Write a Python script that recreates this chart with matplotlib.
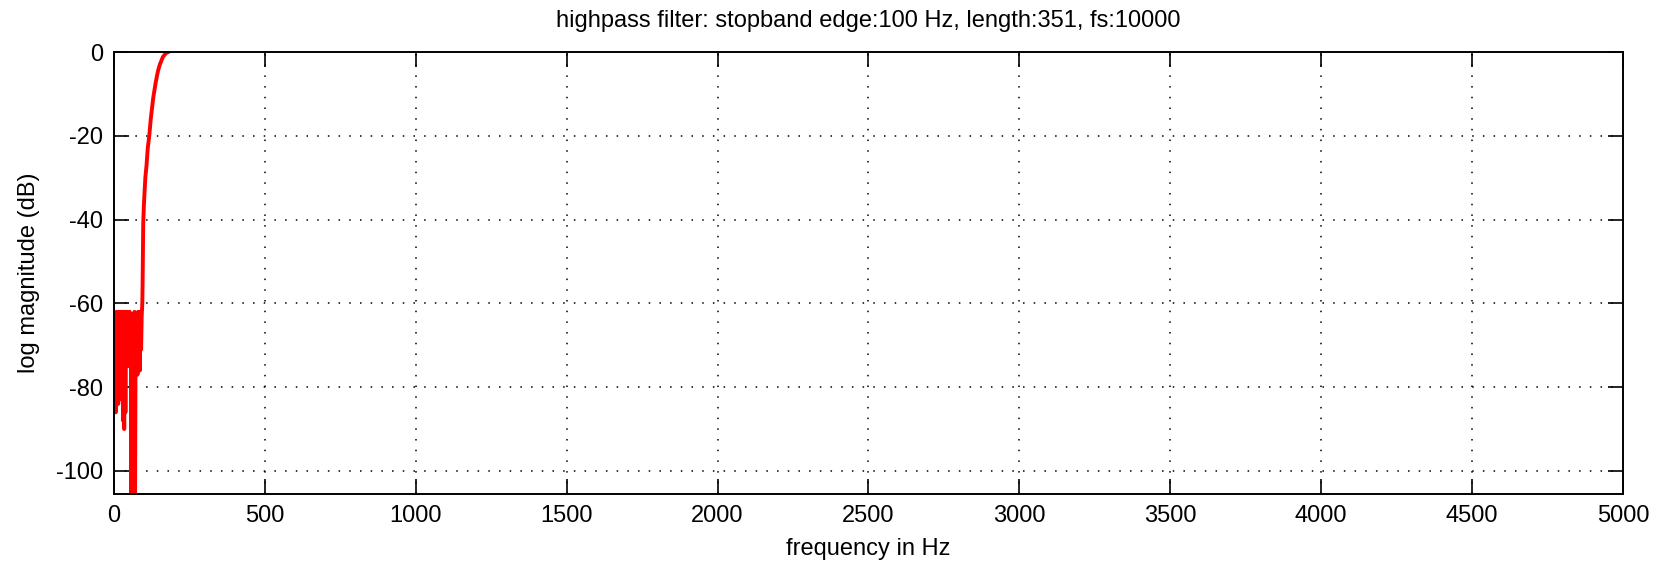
"""
Highpass FIR filter magnitude response (stopband edge 100 Hz, 351 taps, fs 10 kHz).
"""
import matplotlib
matplotlib.use('Agg')
import matplotlib.pyplot as plt

# Frequency response (Hz, dB)
FREQ_HZ = [0, 2, 4, 6, 8, 10, 12, 14, 16, 18, 20, 22, 24, 26, 28, 30, 32, 34, 36, 38,
           40, 42, 44, 46, 48, 50, 52, 54, 56, 58, 60, 62, 64, 66, 68, 70, 72, 74, 76, 78,
           80, 82, 84, 86, 88, 90, 92,
           94, 95, 96, 97, 99, 101, 104, 108, 112, 117, 122, 130, 139, 146, 152, 162, 172, 180]
MAG_DB = [-66, -84, -63, -86, -62, -80, -63, -84, -62, -70, -62, -74, -63, -83, -62, -88, -63, -90, -62, -86,
          -63, -70, -62, -75, -63, -74, -62, -74, -63, -110, -63, -110, -64, -110, -62, -106, -63, -74, -63, -77,
          -62, -72, -63, -76, -62, -71, -63,
          -60, -55, -48, -41, -37, -34, -30, -27, -23, -20, -16, -11, -7, -4.5, -3, -1.2, -0.3, 0]

X_TICKS = [0, 500, 1000, 1500, 2000, 2500, 3000, 3500, 4000, 4500, 5000]
Y_TICKS = [-100, -80, -60, -40, -20, 0]

TITLE = 'highpass filter: stopband edge:100 Hz, length:351, fs:10000'

plt.rcParams['font.family'] = ['Liberation Sans', 'DejaVu Sans']
plt.rcParams['axes.unicode_minus'] = False  # plain hyphen like the original

fig = plt.figure(figsize=(16.61, 5.66), dpi=100)
ax = fig.add_axes([0.0686, 0.1272, 0.9085, 0.7809])

ax.plot(FREQ_HZ, MAG_DB, color='red', linewidth=2.8)

ax.set_xlim(0, 5000)
ax.set_ylim(-105.5, 0)
ax.set_xticks(X_TICKS)
ax.set_yticks(Y_TICKS)

# MATLAB-like look: inward ticks on all sides, dotted grid
ax.tick_params(direction='in', length=11, width=1.2, top=True, right=True,
               labelsize=17, pad=8, colors='black')
ax.grid(True, color='black', linestyle=(0, (1, 6)), linewidth=1.1)
for spine in ax.spines.values():
    spine.set_linewidth(1.4)

ax.set_title(TITLE, fontsize=17, pad=18)
ax.set_xlabel('frequency in Hz', fontsize=17, labelpad=8)
ax.set_ylabel('log magnitude (dB)', fontsize=17, labelpad=11)

fig.savefig('out.png', dpi=100)
